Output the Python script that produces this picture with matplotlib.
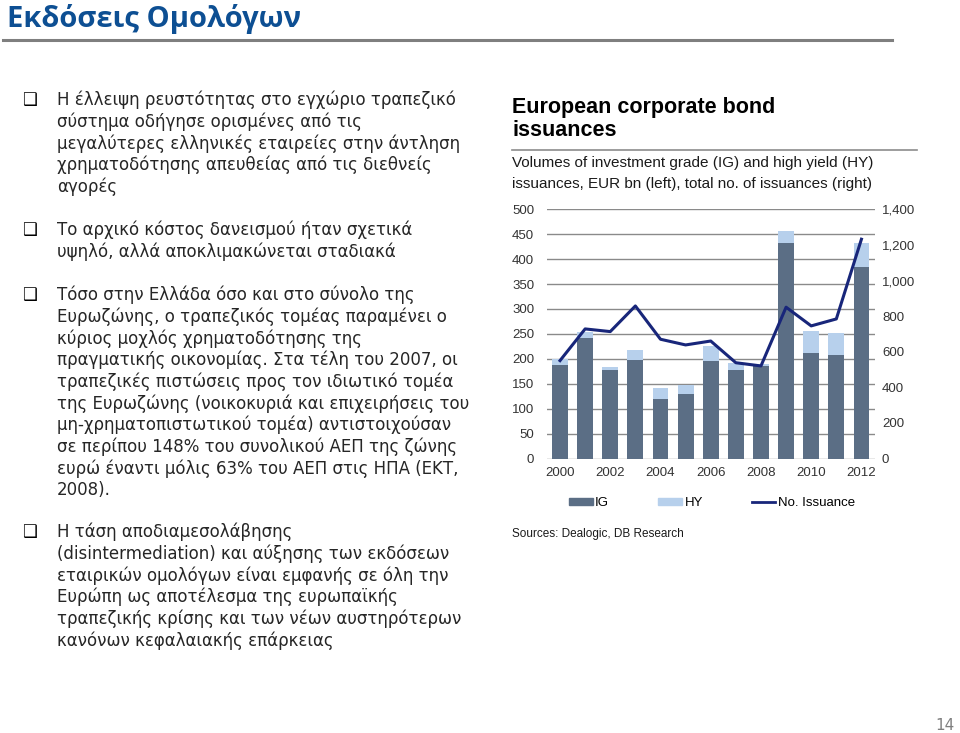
import numpy as np
import matplotlib.pyplot as plt
from matplotlib.patches import Patch
from matplotlib.lines import Line2D

# data
years = list(range(2000, 2013))
ig = [188, 242, 178, 197, 119, 130, 196, 177, 186, 432, 212, 208, 385]
hy = [11, 12, 6, 21, 23, 18, 30, 15, 3, 24, 43, 44, 47]
n_issuance = [550, 728, 713, 857, 670, 638, 660, 538, 520, 850, 745, 784, 1232]
year_labels = ['2000', '', '2002', '', '2004', '', '2006', '', '2008', '', '2010', '', '2012']

title = 'Εκδόσεις Ομολόγων'
bullets = [
    ['Η έλλειψη ρευστότητας στο εγχώριο τραπεζικό',
     'σύστημα οδήγησε ορισμένες από τις',
     'μεγαλύτερες ελληνικές εταιρείες στην άντληση',
     'χρηματοδότησης απευθείας από τις διεθνείς',
     'αγορές'],
    ['Το αρχικό κόστος δανεισμού ήταν σχετικά',
     'υψηλό, αλλά αποκλιμακώνεται σταδιακά'],
    ['Τόσο στην Ελλάδα όσο και στο σύνολο της',
     'Ευρωζώνης, ο τραπεζικός τομέας παραμένει ο',
     'κύριος μοχλός χρηματοδότησης της',
     'πραγματικής οικονομίας. Στα τέλη του 2007, οι',
     'τραπεζικές πιστώσεις προς τον ιδιωτικό τομέα',
     'της Ευρωζώνης (νοικοκυριά και επιχειρήσεις του',
     'μη-χρηματοπιστωτικού τομέα) αντιστοιχούσαν',
     'σε περίπου 148% του συνολικού ΑΕΠ της ζώνης',
     'ευρώ έναντι μόλις 63% του ΑΕΠ στις ΗΠΑ (ΕΚΤ,',
     '2008).'],
    ['Η τάση αποδιαμεσολάβησης',
     '(disintermediation) και αύξησης των εκδόσεων',
     'εταιρικών ομολόγων είναι εμφανής σε όλη την',
     'Ευρώπη ως αποτέλεσμα της ευρωπαϊκής',
     'τραπεζικής κρίσης και των νέων αυστηρότερων',
     'κανόνων κεφαλαιακής επάρκειας'],
]
bullet_top = [100, 230, 295, 532]

W, H = 960, 733
fig = plt.figure(figsize=(9.6, 7.33), dpi=100)


def fy(y):
    return 1 - y / H


# slide title + rule
fig.text(7 / W, fy(19), title, fontsize=21, fontweight='bold', color='#0d4f93',
         family='Open Sans', va='center', ha='left')
fig.add_artist(Line2D([3 / W, 892 / W], [fy(40), fy(40)], color='#7f7f7f', lw=2.2))

# bullet text
line_h = 21.7
for top, lines in zip(bullet_top, bullets):
    fig.text(22 / W, fy(top), '❑', fontsize=12, color='black', family='DejaVu Sans',
             va='center', ha='left')
    for i, s in enumerate(lines):
        fig.text(57 / W, fy(top + i * line_h), s, fontsize=12, color='#262626',
                 family='DejaVu Sans', va='center', ha='left')

# chart header
fig.text(512 / W, fy(107), 'European corporate bond', fontsize=15.5, fontweight='bold',
         family='Liberation Sans', va='center', ha='left', color='black')
fig.text(512 / W, fy(131), 'issuances', fontsize=15.5, fontweight='bold',
         family='Liberation Sans', va='center', ha='left', color='black')
fig.add_artist(Line2D([512 / W, 917 / W], [fy(150), fy(150)], color='#8c8c8c', lw=1.2))
fig.text(512 / W, fy(163), 'Volumes of investment grade (IG) and high yield (HY)',
         fontsize=11, family='Liberation Sans', va='center', ha='left', color='#1a1a1a')
fig.text(512 / W, fy(184), 'issuances, EUR bn (left), total no. of issuances (right)',
         fontsize=11, family='Liberation Sans', va='center', ha='left', color='#1a1a1a')

# chart
ax = fig.add_axes([546.7 / W, fy(458.5), (875 - 546.7) / W, (458.5 - 209.3) / H])
x = np.arange(len(years))
ig_color = '#5b6e85'
hy_color = '#b7d0ec'
line_color = '#18267a'
ax.bar(x, ig, width=0.63, color=ig_color, zorder=2)
ax.bar(x, hy, width=0.63, bottom=ig, color=hy_color, zorder=2)
ax.set_ylim(0, 500)
ax.set_yticks(range(0, 501, 50))
ax.set_xlim(-0.53, 12.54)
ax.set_xticks(x)
ax.set_xticklabels(year_labels)
ax.grid(axis='y', color='#8a8a8a', lw=1, zorder=0)
for sp in ax.spines.values():
    sp.set_visible(False)
ax.tick_params(length=0, labelsize=9.5, colors='#333333', pad=9)
ax.tick_params(axis='x', pad=6)
for lab in ax.get_xticklabels() + ax.get_yticklabels():
    lab.set_family('Liberation Sans')

ax2 = ax.twinx()
ax2.plot(x, n_issuance, color=line_color, lw=2.2, zorder=3)
ax2.set_ylim(0, 1400)
ax2.set_yticks(range(0, 1401, 200))
ax2.set_yticklabels([f'{v:,}' for v in range(0, 1401, 200)])
for sp in ax2.spines.values():
    sp.set_visible(False)
ax2.tick_params(length=0, labelsize=9.5, colors='#333333', pad=5)
for lab in ax2.get_yticklabels():
    lab.set_family('Liberation Sans')

handles = [Patch(color=ig_color, label='IG'),
           Patch(color=hy_color, label='HY'),
           Line2D([], [], color=line_color, lw=2, label='No. Issuance')]
fig.legend(handles=handles, loc='center', bbox_to_anchor=(712 / W, fy(503)), ncol=3,
           frameon=False, prop={'family': 'Liberation Sans', 'size': 9.5},
           handlelength=1.8, handletextpad=0.2, columnspacing=3.7, handleheight=0.5)

fig.text(512 / W, fy(534), 'Sources: Dealogic, DB Research', fontsize=8.5,
         family='Liberation Sans', va='center', ha='left', color='#1a1a1a')

fig.text(955 / W, fy(725), '14', fontsize=11, color='#7f7f7f', family='DejaVu Sans',
         va='center', ha='right')

fig.savefig('out.png', dpi=100)
